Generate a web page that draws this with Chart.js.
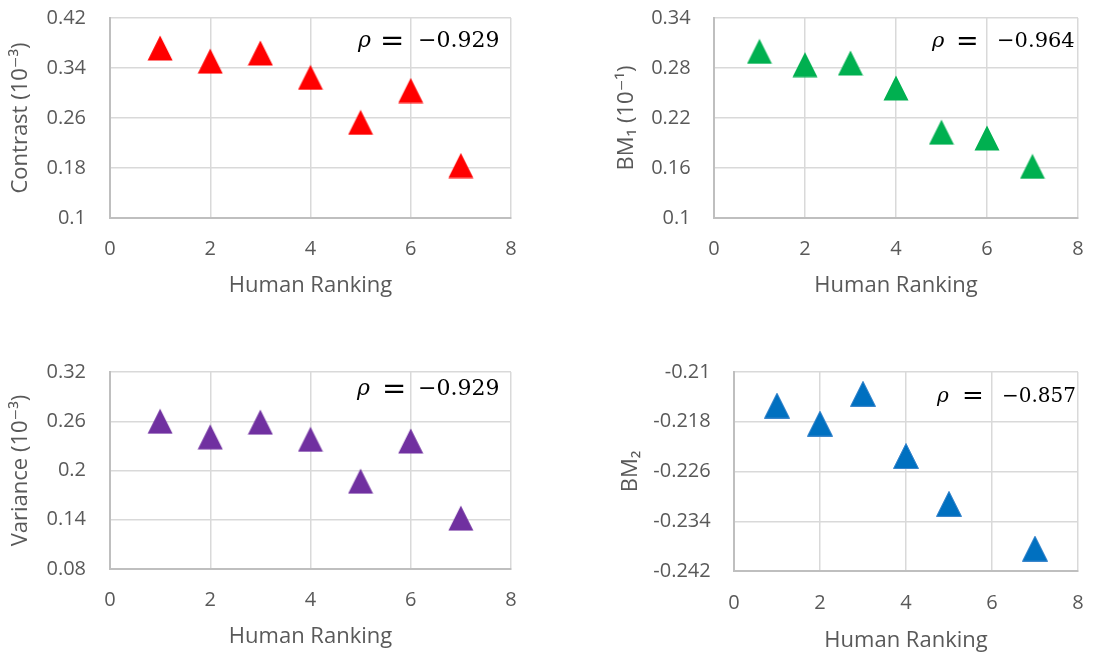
<!DOCTYPE html>
<html>
<head>
<meta charset="utf-8">
<title>Metric vs Human Ranking</title>
<script src="https://cdn.jsdelivr.net/npm/chart.js@4.4.1/dist/chart.umd.min.js"></script>
<style>
    html, body { margin: 0; padding: 0; background: #ffffff; }
    #wrap { position: relative; width: 1095px; height: 655px; overflow: hidden; }
    #wrap canvas { position: absolute; }
</style>
</head>
<body>
<div id="wrap">
    <canvas id="c1" width="548" height="328" style="left:0px; top:0px;"></canvas>
    <canvas id="c2" width="547" height="328" style="left:548px; top:0px;"></canvas>
    <canvas id="c3" width="548" height="327" style="left:0px; top:328px;"></canvas>
    <canvas id="c4" width="547" height="327" style="left:548px; top:328px;"></canvas>
</div>
<script>
// --- Data ---
const ranks = [1, 2, 3, 4, 5, 6, 7];
const contrastVals = [0.372, 0.351, 0.364, 0.325, 0.253, 0.304, 0.184];
const bm1Vals = [0.300, 0.284, 0.286, 0.256, 0.203, 0.196, 0.162];
const varianceVals = [0.260, 0.241, 0.259, 0.238, 0.187, 0.236, 0.142];
const bm2Vals = [-0.2154, -0.2183, -0.2135, -0.2235, -0.2312, null, -0.2384];

const xTicks = [0, 2, 4, 6, 8];
const contrastTicks = [0.1, 0.18, 0.26, 0.34, 0.42];
const bm1Ticks = [0.1, 0.16, 0.22, 0.28, 0.34];
const varianceTicks = [0.08, 0.14, 0.2, 0.26, 0.32];
const bm2Ticks = [-0.242, -0.234, -0.226, -0.218, -0.21];

const rhoLabels = ['\u22120.929', '\u22120.964', '\u22120.929', '\u22120.857'];

// --- Styling ---
const textGray = '#595959';
const gridGray = '#D9D9D9';
const axisGray = '#BFBFBF';
const sansFont = "'Open Sans', 'DejaVu Sans', sans-serif";
const serifFont = "'DejaVu Serif', 'Liberation Serif', serif";

// Excel-like triangle marker (isosceles, width == height)
function makeTriangle(fill, stroke) {
    const size = 26;
    const c = document.createElement('canvas');
    c.width = size; c.height = size;
    const g = c.getContext('2d');
    g.beginPath();
    g.moveTo(size / 2, 0.5);
    g.lineTo(size - 0.5, size - 0.5);
    g.lineTo(0.5, size - 0.5);
    g.closePath();
    g.fillStyle = fill;
    g.fill();
    if (stroke) {
        g.lineWidth = 1;
        g.strokeStyle = stroke;
        g.stroke();
    }
    return c;
}

function toPoints(ys) {
    return ranks.map((x, i) => ({ x: x, y: ys[i] }));
}

// the layout must not grow because of tick label overhang
function noOverhang(s) {
    s.paddingTop = 0; s.paddingBottom = 0;
    s.paddingLeft = 0; s.paddingRight = 0;
}

// draws the "rho = -0.xxx" note in the upper right of the plot
function rhoPlugin(label, pos) {
    return {
        id: 'rhoNote',
        afterDraw(chart) {
            const { ctx, chartArea } = chart;
            const y = chartArea.top + pos.dy;
            ctx.save();
            ctx.fillStyle = '#000000';
            ctx.textBaseline = 'middle';
            ctx.textAlign = 'left';
            ctx.font = 'italic ' + pos.size + 'px ' + serifFont;
            ctx.fillText('\u03C1', chartArea.right + pos.rho, y);
            ctx.font = Math.round(pos.size * 1.3) + 'px ' + serifFont;
            ctx.fillText('=', chartArea.right + pos.eq, y + 1);
            ctx.font = pos.size + 'px ' + serifFont;
            ctx.fillText(label, chartArea.right + pos.num, y);
            ctx.restore();
        }
    };
}

function makeChart(id, cfg) {
    const ctx = document.getElementById(id).getContext('2d');
    return new Chart(ctx, {
        type: 'scatter',
        data: {
            datasets: [{
                data: toPoints(cfg.values),
                pointStyle: makeTriangle(cfg.fill, cfg.stroke),
                pointRadius: 13,
                pointHoverRadius: 13
            }]
        },
        options: {
            responsive: false,
            animation: false,
            events: [],
            layout: { padding: cfg.pad },
            plugins: { legend: { display: false }, tooltip: { enabled: false } },
            scales: {
                x: {
                    type: 'linear',
                    min: xTicks[0],
                    max: xTicks[xTicks.length - 1],
                    afterBuildTicks: s => { s.ticks = xTicks.map(v => ({ value: v })); },
                    afterFit: s => { s.height = cfg.xHeight; noOverhang(s); },
                    ticks: {
                        color: textGray,
                        font: { family: sansFont, size: 20 },
                        padding: cfg.xTickPad,
                        maxRotation: 0,
                        callback: v => String(v)
                    },
                    grid: { color: gridGray, lineWidth: 1.5, drawTicks: false },
                    border: { color: axisGray, width: 2 },
                    title: {
                        display: true,
                        text: 'Human Ranking',
                        color: textGray,
                        font: { family: sansFont, size: 22 },
                        padding: 0
                    }
                },
                y: {
                    type: 'linear',
                    min: cfg.ticks[0],
                    max: cfg.ticks[cfg.ticks.length - 1],
                    afterBuildTicks: s => { s.ticks = cfg.ticks.map(v => ({ value: v })); },
                    afterFit: s => { s.width = cfg.yWidth; noOverhang(s); },
                    ticks: {
                        color: textGray,
                        font: { family: sansFont, size: 20 },
                        padding: cfg.yTickPad,
                        callback: v => String(v)
                    },
                    grid: { color: gridGray, lineWidth: 1.5, drawTicks: false },
                    border: { color: axisGray, width: 2 },
                    title: {
                        display: true,
                        text: cfg.yTitle,
                        color: textGray,
                        font: { family: sansFont, size: 22 },
                        padding: 0
                    }
                }
            }
        },
        plugins: [rhoPlugin(cfg.rho, cfg.rhoPos)]
    });
}

makeChart('c1', {
    values: contrastVals, ticks: contrastTicks, yTitle: 'Contrast (10\u207B\u00B3)',
    fill: '#FF0000', rho: rhoLabels[0],
    pad: { left: 7.8, right: 37, top: 18, bottom: 28.8 },
    yWidth: 102.2, xHeight: 81.2, yTickPad: 24, xTickPad: 19.4,
    rhoPos: { rho: -153, eq: -131, num: -93, dy: 23, size: 22 }
});

makeChart('c2', {
    values: bm1Vals, ticks: bm1Ticks, yTitle: 'BM\u2081 (10\u207B\u00B9)',
    fill: '#00B050', rho: rhoLabels[1],
    pad: { left: 65.8, right: 17, top: 18, bottom: 28.8 },
    yWidth: 100.2, xHeight: 81.2, yTickPad: 23.3, xTickPad: 19.4,
    rhoPos: { rho: -146, eq: -122, num: -81, dy: 23.5, size: 21 }
});

makeChart('c3', {
    values: varianceVals, ticks: varianceTicks, yTitle: 'Variance (10\u207B\u00B3)',
    fill: '#7030A0', rho: rhoLabels[2],
    pad: { left: 7.8, right: 37, top: 44, bottom: 4.8 },
    yWidth: 102.2, xHeight: 81.2, yTickPad: 24, xTickPad: 19.4,
    rhoPos: { rho: -154, eq: -129, num: -93, dy: 17, size: 22 }
});

makeChart('c4', {
    values: bm2Vals, ticks: bm2Ticks, yTitle: 'BM\u2082',
    fill: '#0070C0', stroke: '#3A86CC', rho: rhoLabels[3],
    pad: { left: 69.8, right: 17, top: 44, bottom: 0.8 },
    yWidth: 116.2, xHeight: 83.2, yTickPad: 23.3, xTickPad: 19.9,
    rhoPos: { rho: -141, eq: -116, num: -76, dy: 24.5, size: 20 }
});
</script>
</body>
</html>
